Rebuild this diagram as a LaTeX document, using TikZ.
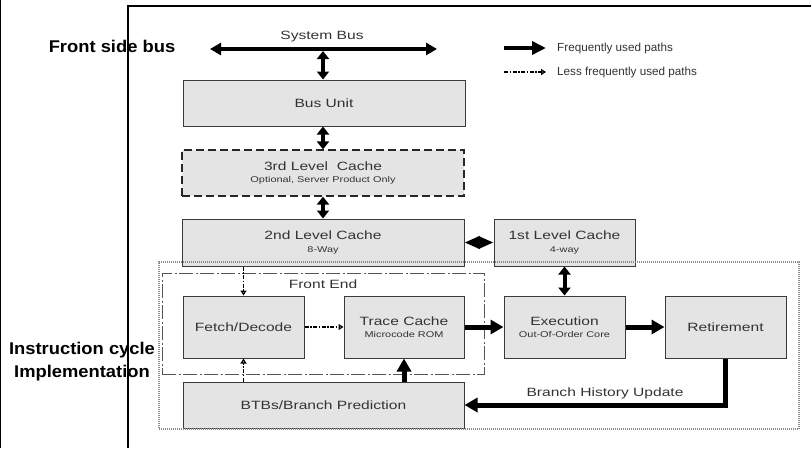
\documentclass[tikz,border=0pt]{standalone}
\usepackage{fontspec}
\setmainfont{Liberation Sans}
\newfontfamily\dfont[FakeStretch=1.3]{Liberation Sans}
\newfontfamily\lblfont[FakeStretch=1.08]{Liberation Sans}
\usetikzlibrary{arrows.meta}
\definecolor{boxfill}{HTML}{E4E4E4}
\definecolor{boxdraw}{HTML}{3A3A3A}
\definecolor{txt}{HTML}{333333}
\definecolor{dotgray}{HTML}{8A8A8A}
\definecolor{fegray}{HTML}{555555}
\newcommand\subtxt[1]{{\fontsize{8.4}{10}\selectfont #1}}
\begin{document}
\begin{tikzpicture}[x=1pt,y=-1pt,
  unitbox/.style={draw=boxdraw, fill=boxfill, line width=1pt, inner sep=0pt, text=txt,
    font=\dfont\fontsize{12}{12.5}\selectfont, align=center},
  dashbox/.style={unitbox, draw=black!85, line width=1.2pt, dash pattern=on 8pt off 4pt},
  febox/.style={draw=fegray, line width=1pt, dash pattern=on 14pt off 2.5pt on 2pt off 2.5pt, inner sep=0pt},
  outerbox/.style={draw=dotgray, line width=1.4pt, dash pattern=on 1pt off 1pt, inner sep=0pt},
  dtxt/.style={text=txt, font=\dfont\fontsize{12}{14}\selectfont, inner sep=0pt},
  legtxt/.style={text=txt, font=\fontsize{11.7}{13}\selectfont, inner sep=0pt, anchor=west},
  lbl/.style={text=black, font=\lblfont\fontsize{17}{23}\selectfont\bfseries, inner sep=0pt, align=center},
  busarrow/.style={line width=4pt, {Triangle[length=11pt,width=12pt]}-{Triangle[length=11pt,width=12pt]}},
  twoway/.style={line width=4pt, {Triangle[length=8pt,width=12pt]}-{Triangle[length=8pt,width=12pt]}},
  sideway/.style={line width=3.5pt, {Triangle[length=15pt,width=12pt]}-{Triangle[length=15pt,width=12pt]}},
  fatarrow/.style={line width=5pt, -{Triangle[length=13pt,width=14pt]}},
  legfat/.style={line width=4pt, -{Triangle[length=14pt,width=13pt]}},
  ddarrow/.style={line width=1.4pt, dash pattern=on 4pt off 1.5pt on 1.5pt off 1.5pt, -{Triangle[open,length=5pt,width=6pt]}}
]
\useasboundingbox (0,0) rectangle (811,448);
% page rules
\draw[line width=1.3pt] (0.7,0) -- (0.7,448);
\draw[line width=2pt] (811,5.5) -- (128,5.5) -- (128,448);

% front end region
\node[febox, minimum width=322pt, minimum height=101pt] (fe) at (323,323.5) {};
\node[dtxt] (felbl) at (323,284) {Front End};

% units
\node[unitbox, minimum width=282pt, minimum height=46pt] (bus) at (324,103) {Bus Unit};
\node[dashbox, minimum width=282pt, minimum height=46pt] (l3) at (323,173) {3rd Level~ Cache\\\subtxt{Optional, Server Product Only}};
\node[unitbox, minimum width=282pt, minimum height=47pt] (l2) at (323,242.5) {2nd Level Cache\\\subtxt{8-Way}};
\node[unitbox, minimum width=141pt, minimum height=47pt] (l1) at (564.5,242.5) {1st Level Cache\\\subtxt{4-way}};
\node[unitbox, minimum width=121pt, minimum height=62pt] (fetch) at (243.5,327) {Fetch/Decode};
\node[unitbox, minimum width=120pt, minimum height=62pt] (trace) at (404,327) {Trace Cache\\\subtxt{Microcode ROM}};
\node[unitbox, minimum width=121pt, minimum height=62pt] (exec) at (564.5,327) {Execution\\\subtxt{Out-Of-Order Core}};
\node[unitbox, minimum width=121pt, minimum height=62pt] (retire) at (725.5,327) {Retirement};
\node[unitbox, minimum width=281pt, minimum height=46pt] (btb) at (323.5,405) {BTBs/Branch Prediction};

% dotted core region (drawn over the caches)
\node[outerbox, minimum width=640pt, minimum height=167pt] (core) at (479,345.5) {};

% system bus
\coordinate (sbL) at (210,49);
\coordinate (sbR) at (437,49);
\coordinate (sbM) at (323,51);
\draw[busarrow] (sbL) -- (sbR);
\node[dtxt] (sbtxt) at (322,37) {System Bus};
\draw[twoway] (sbM) -- (bus.north -| sbM);

% cache links
\draw[twoway] (bus.south -| l3.north) -- (l3.north);
\draw[twoway] (l3.south) -- (l2.north);
\draw[sideway] (l2.east) -- (l1.west);
\draw[twoway] (l1.south) -- (exec.north);

% pipeline
\draw[fatarrow] (trace.east) -- (exec.west);
\draw[fatarrow] (exec.east) -- (retire.west);
\draw[fatarrow] (retire.south) |- (btb.east);
\node[dtxt] (bhu) at (605,393) {Branch History Update};
\draw[fatarrow] (btb.north -| trace.south) -- (trace.south);
\draw[ddarrow] (l2.south -| fetch.north) -- (fetch.north);
\draw[ddarrow] (btb.north -| fetch.south) -- (fetch.south);
\draw[ddarrow] (fetch.east) -- (trace.west);

% legend
\coordinate (lgA1) at (504,48);
\coordinate (lgA2) at (546,48);
\draw[legfat] (lgA1) -- (lgA2);
\node[legtxt] (lgT1) at (557,48) {Frequently used paths};
\coordinate (lgB1) at (504,72);
\coordinate (lgB2) at (546,72);
\draw[ddarrow] (lgB1) -- (lgB2);
\node[legtxt] (lgT2) at (557,72) {Less frequently used paths};

% side labels
\node[lbl] (fsb) at (112,46) {Front side bus};
\node[lbl] (icl) at (82,361.5) {Instruction cycle\\Implementation};
\end{tikzpicture}
\end{document}
